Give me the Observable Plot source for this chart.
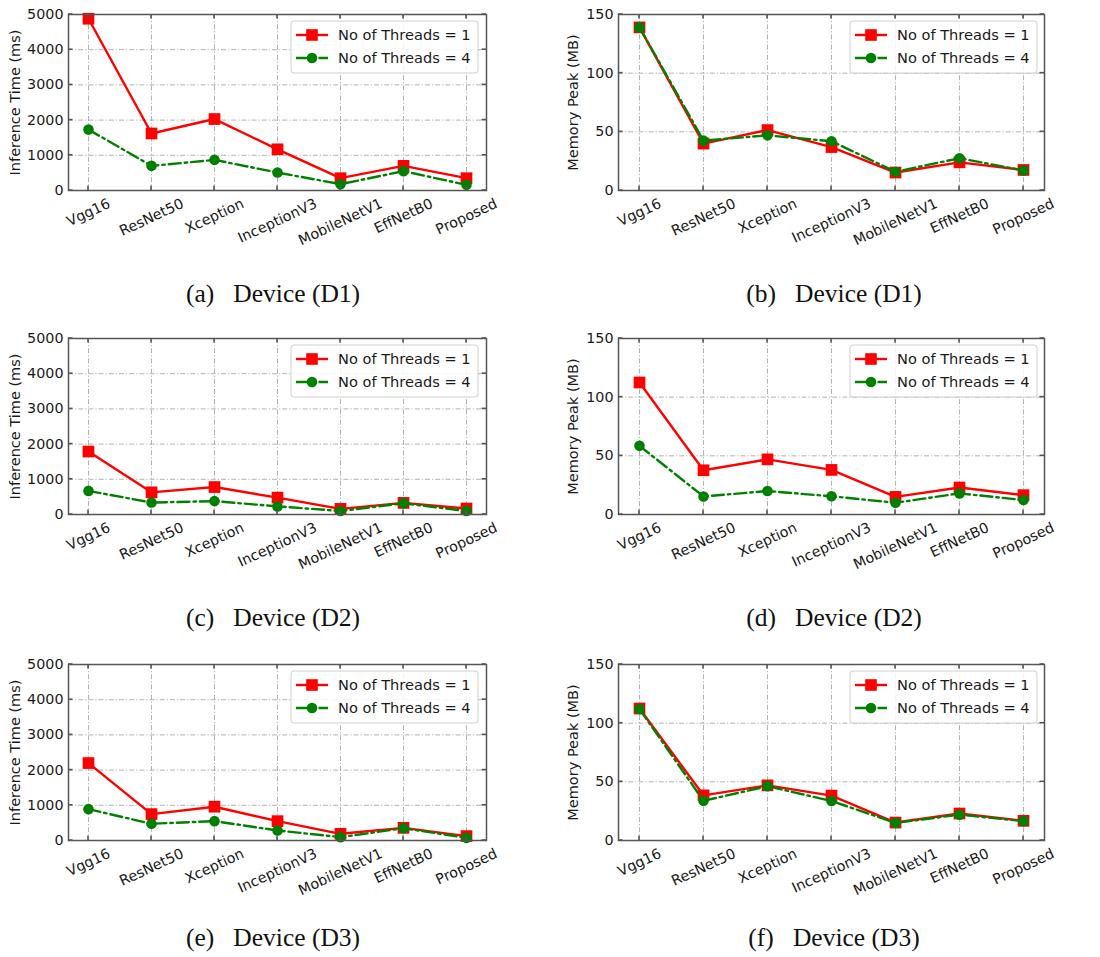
<!DOCTYPE html>
<html>
<head>
<meta charset="utf-8">
<script src="https://cdn.jsdelivr.net/npm/d3@7"></script>
<script src="https://cdn.jsdelivr.net/npm/@observablehq/plot@0.6"></script>
<style>
  html, body { margin: 0; padding: 0; background: #fff; }
  #root { position: relative; width: 1100px; height: 957px; overflow: hidden; }
  .panel { position: absolute; }
  .panel svg { background: transparent; overflow: visible; }
  .cap { position: absolute; transform: translate(-50%, -50%); font-family: "Liberation Serif", "Times New Roman", serif; font-size: 25.5px; color: #111; white-space: pre; }
</style>
</head>
<body>
<div id="root"></div>
<script>
// ---------------- data ----------------
const categories = ["Vgg16", "ResNet50", "Xception", "InceptionV3", "MobileNetV1", "EffNetB0", "Proposed"];
const seriesLabels = ["No of Threads = 1", "No of Threads = 4"];
const timeTicks = [0, 1000, 2000, 3000, 4000, 5000];
const memTicks = [0, 50, 100, 150];
const captions = ["(a)\u2002 Device (D1)", "(b)\u2002 Device (D1)", "(c)\u2002 Device (D2)", "(d)\u2002 Device (D2)", "(e)\u2002 Device (D3)", "(f)\u2002 Device (D3)"];

const timeD1_t1 = [4880, 1620, 2030, 1170, 350, 700, 350];
const timeD1_t4 = [1730, 700, 870, 510, 180, 550, 160];
const memD1_t1 = [139, 40, 51.5, 37, 15.3, 24, 17.5];
const memD1_t4 = [139, 42.5, 47, 42, 16, 27.5, 17];

const timeD2_t1 = [1790, 630, 780, 480, 160, 330, 170];
const timeD2_t4 = [670, 340, 380, 230, 100, 320, 100];
const memD2_t1 = [112.5, 37.7, 47, 38, 15, 23, 16.5];
const memD2_t4 = [58.5, 15.4, 20, 15.5, 10, 18, 12.3];

const timeD3_t1 = [2200, 750, 960, 550, 190, 360, 125];
const timeD3_t4 = [890, 475, 550, 285, 95, 350, 75];
const memD3_t1 = [112.5, 38.5, 47, 38.3, 15.3, 23, 16.8];
const memD3_t4 = [112, 33.8, 46.3, 33.7, 15, 22, 16.5];

// ---------------- styles ----------------
const RED = "#ff0000", GREEN = "#008000";
const DASHDOT = "12,4,2.5,4";
const GRID = {stroke: "#aaaaaa", strokeOpacity: 1, strokeWidth: 0.9, strokeDasharray: "5,2,1.2,2"};
const FONT = "DejaVu Sans";

const root = document.getElementById("root");

function rows(vals) { return categories.map((c, i) => ({model: c, value: vals[i]})); }

function makePanel(cfg) {
  const H = 270;
  const frame = {left: cfg.marginLeft, right: cfg.width - cfg.marginRight, top: 14, bottom: H - 80};
  const d1 = rows(cfg.t1), d4 = rows(cfg.t4);
  const plot = Plot.plot({
    width: cfg.width, height: H,
    marginTop: 14, marginBottom: 80, marginLeft: cfg.marginLeft, marginRight: cfg.marginRight,
    style: {fontFamily: FONT, fontSize: "14px", color: "#1a1a1a", background: "transparent", overflow: "visible"},
    x: {type: "point", domain: categories, padding: 0.3, axis: null},
    y: {domain: cfg.yDomain, axis: null},
    marks: [
      Plot.gridX(categories, GRID),
      Plot.gridY(cfg.yTicks, GRID),
      Plot.axisY(cfg.yTicks, {tickSize: 0, tickPadding: 5, fontSize: 14.3, label: null, tickFormat: d => String(d)}),
      Plot.text([cfg.yLabel], {frameAnchor: "left", rotate: -90, dx: cfg.labelDx, text: d => d, fontSize: 14.5, lineAnchor: "middle", textAnchor: "middle", fill: "#1a1a1a"}),
      Plot.text(categories, {x: d => d, frameAnchor: "bottom", text: d => d, rotate: -25, textAnchor: "middle", lineAnchor: "middle", fontSize: 14.3, fill: "#1a1a1a", className: "xtl"}),
      Plot.line(d1, {x: "model", y: "value", stroke: RED, strokeWidth: 2.4}),
      Plot.dot(d1, {x: "model", y: "value", symbol: "square", r: 6.6, fill: RED, stroke: "none"}),
      Plot.line(d4, {x: "model", y: "value", stroke: GREEN, strokeWidth: 2.4, strokeDasharray: DASHDOT}),
      Plot.dot(d4, {x: "model", y: "value", symbol: "circle", r: 5.3, fill: GREEN, stroke: "none"}),
      Plot.frame({stroke: "#555", strokeWidth: 1.5})
    ]
  });
  const div = document.createElement("div");
  div.className = "panel";
  div.style.left = cfg.left + "px";
  div.style.top = cfg.top + "px";
  div.appendChild(plot);
  root.appendChild(div);

  const svg = plot.tagName.toLowerCase() === "svg" ? plot : plot.querySelector("svg");
  const sx = plot.scale("x"), sy = plot.scale("y");
  const g = d3.select(svg).append("g");

  // inward ticks on all four sides
  const TL = 4.5;
  categories.forEach(c => {
    const x = sx.apply(c);
    g.append("line").attr("x1", x).attr("x2", x).attr("y1", frame.bottom).attr("y2", frame.bottom - TL).attr("stroke", "#555").attr("stroke-width", 1.6);
    g.append("line").attr("x1", x).attr("x2", x).attr("y1", frame.top).attr("y2", frame.top + TL).attr("stroke", "#555").attr("stroke-width", 1.6);
  });
  cfg.yTicks.forEach(v => {
    const y = sy.apply(v);
    g.append("line").attr("x1", frame.left).attr("x2", frame.left + TL).attr("y1", y).attr("y2", y).attr("stroke", "#555").attr("stroke-width", 1.6);
    g.append("line").attr("x1", frame.right).attr("x2", frame.right - TL).attr("y1", y).attr("y2", y).attr("stroke", "#555").attr("stroke-width", 1.6);
  });

  // shift rotated x tick labels so their rotated bbox top sits below the frame (matplotlib-like)
  let texts = Array.from(svg.querySelectorAll(".xtl text"));
  if (!texts.length) texts = Array.from(svg.querySelectorAll("text")).filter(t => categories.includes(t.textContent) && (t.getAttribute("transform") || "").includes("rotate"));
  const a = 25 * Math.PI / 180, h = 14;
  texts.forEach(t => {
    const w = t.getComputedTextLength();
    const off = 6 + (w * Math.sin(a) + h * Math.cos(a)) / 2;
    t.setAttribute("transform", `translate(0,${off}) ` + (t.getAttribute("transform") || ""));
  });

  // legend
  const LW = 187, LH = 52;
  const lx = frame.right - cfg.legendInset - LW, ly = frame.top + 7;
  const lg = d3.select(svg).append("g").attr("text-anchor", "start");
  lg.append("rect").attr("x", lx).attr("y", ly).attr("width", LW).attr("height", LH).attr("rx", 3)
    .attr("fill", "white").attr("fill-opacity", 0.85).attr("stroke", "#d0d0d0").attr("stroke-width", 1);
  const entries = [
    {label: seriesLabels[0], color: RED, dash: null, sym: "square"},
    {label: seriesLabels[1], color: GREEN, dash: DASHDOT, sym: "circle"}
  ];
  entries.forEach((e, i) => {
    const y = ly + 14 + i * 23;
    const ln = lg.append("line").attr("x1", lx + 5).attr("x2", lx + 37).attr("y1", y).attr("y2", y)
      .attr("stroke", e.color).attr("stroke-width", 2.4);
    if (e.dash) ln.attr("stroke-dasharray", DASHDOT);
    const cx = lx + 21;
    if (e.sym === "square") lg.append("rect").attr("x", cx - 5.8).attr("y", y - 5.8).attr("width", 11.6).attr("height", 11.6).attr("fill", e.color);
    else lg.append("circle").attr("cx", cx).attr("cy", y).attr("r", 5.3).attr("fill", e.color);
    lg.append("text").attr("x", lx + 47).attr("y", y).attr("dy", "0.35em").attr("text-anchor", "start")
      .style("font-family", FONT).style("font-size", "14.6px").attr("fill", "#1a1a1a").text(e.label);
  });
}

const rowTops = [0, 324, 650];
const timeSeries = [[timeD1_t1, timeD1_t4], [timeD2_t1, timeD2_t4], [timeD3_t1, timeD3_t4]];
const memSeries = [[memD1_t1, memD1_t4], [memD2_t1, memD2_t4], [memD3_t1, memD3_t4]];

rowTops.forEach((top, r) => {
  makePanel({left: 0, top, width: 550, marginLeft: 68, marginRight: 64, yDomain: [0, 5000], yTicks: timeTicks,
    yLabel: "Inference Time (ms)", labelDx: -53, t1: timeSeries[r][0], t4: timeSeries[r][1], legendInset: 8});
  makePanel({left: 540, top, width: 560, marginLeft: 78, marginRight: 56, yDomain: [0, 150], yTicks: memTicks,
    yLabel: "Memory Peak (MB)", labelDx: -45, t1: memSeries[r][0], t4: memSeries[r][1], legendInset: 7});
});

const capY = [294, 618, 938];
const capX = [273, 834];
captions.forEach((c, i) => {
  const d = document.createElement("div");
  d.className = "cap";
  d.style.left = capX[i % 2] + "px";
  d.style.top = capY[Math.floor(i / 2)] + "px";
  d.textContent = c;
  root.appendChild(d);
});
</script>
</body>
</html>
